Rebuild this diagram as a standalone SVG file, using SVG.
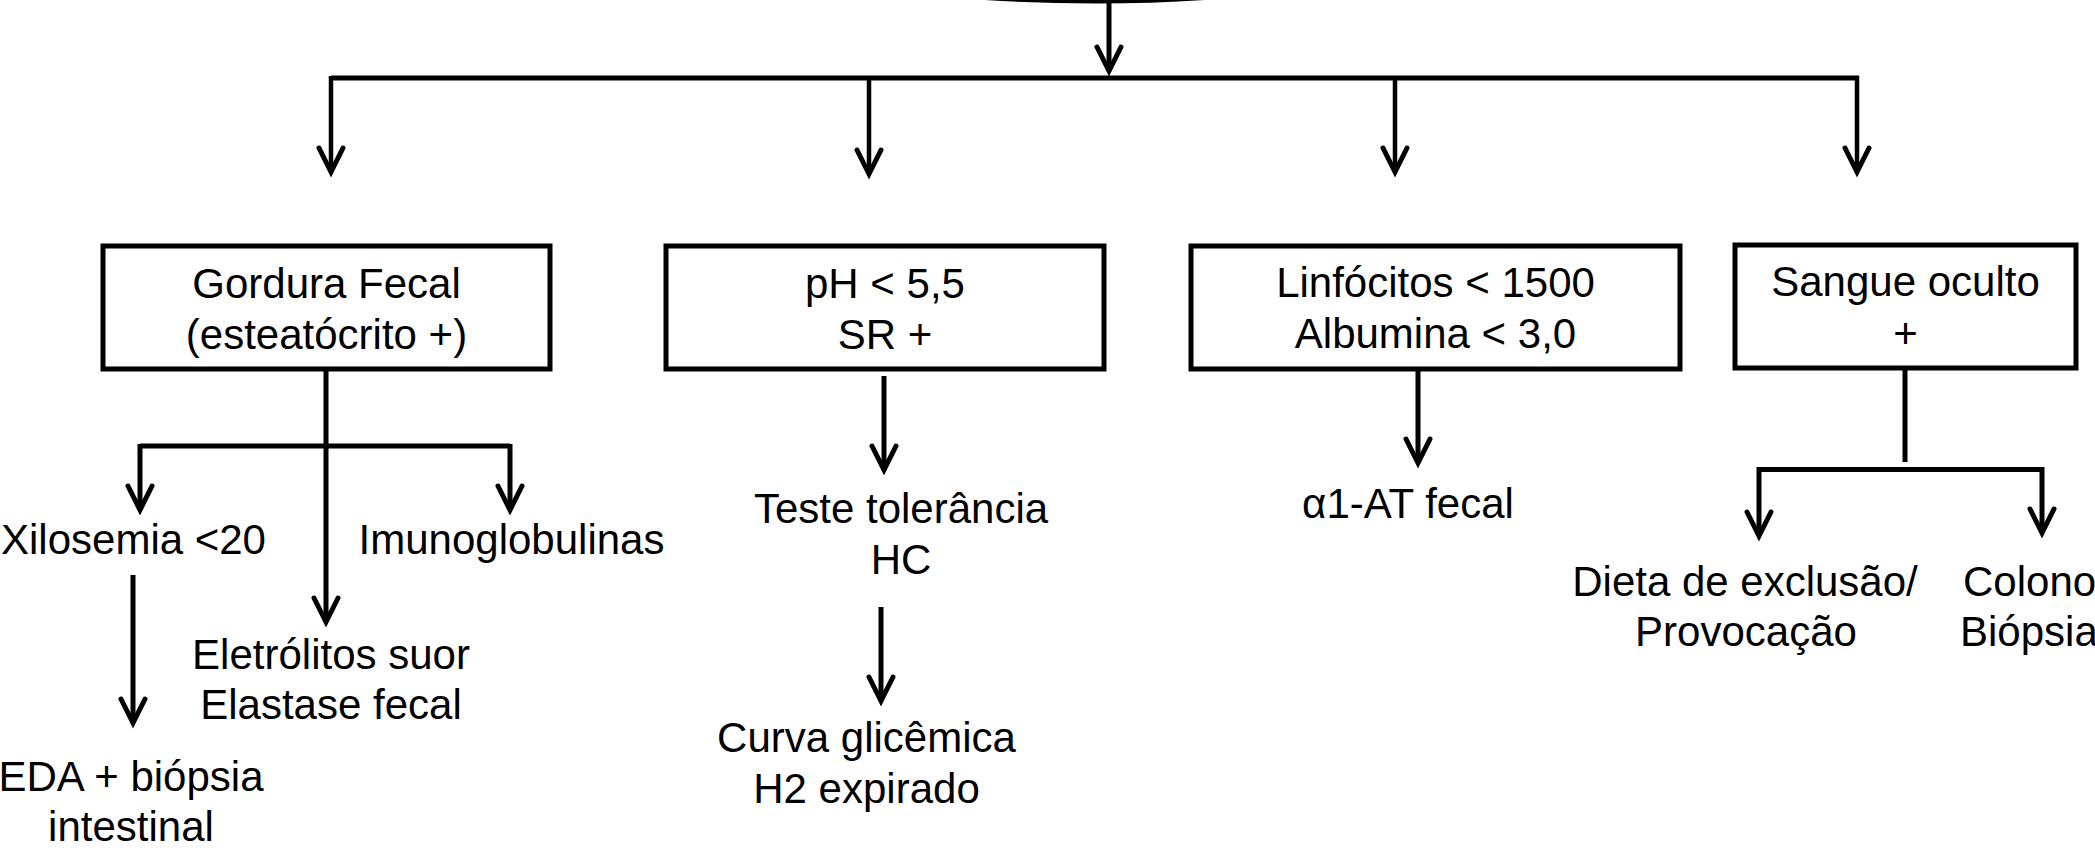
<svg xmlns="http://www.w3.org/2000/svg" width="2095" height="851" viewBox="0 0 2095 851">
  <defs>
    <style>
      .box { fill: #ffffff; stroke: #000000; stroke-width: 5; }
      .lbl { font-family: "Liberation Sans", Arial, sans-serif; font-size: 42px; fill: #000000; text-anchor: middle; }
      .lbl-start { text-anchor: start; }
      .wire { fill: none; stroke: #000000; stroke-width: 5; stroke-linejoin: miter; }
      .drop { fill: none; stroke: #000000; stroke-width: 4.5; }
      .arrow { marker-end: url(#head); }
    </style>
    <!-- open chevron arrowhead, sized in user units -->
    <marker id="head" viewBox="-30 -16 40 32" markerWidth="40" markerHeight="32" refX="0" refY="0" orient="auto" markerUnits="userSpaceOnUse" overflow="visible">
      <path d="M -24 -12 L 0 0 L -24 12" fill="none" stroke="#000000" stroke-width="5" stroke-linecap="round" stroke-linejoin="miter"/>
    </marker>
  </defs>

  <rect x="0" y="0" width="2095" height="851" fill="#ffffff"/>

  <!-- bottom edge of the parent node above the frame -->
  <path id="parent-edge" d="M 985 0 Q 1097 7 1205 0 Z" fill="#000000"/>

  <g id="connectors">
    <!-- trunk into the distribution bus -->
    <line class="wire arrow" x1="1109" y1="3" x2="1109" y2="71"/>
    <line class="wire" x1="331" y1="78" x2="1859" y2="78"/>
    <line class="drop arrow" x1="331" y1="76" x2="331" y2="172"/>
    <line class="drop arrow" x1="869" y1="78" x2="869" y2="174"/>
    <line class="drop arrow" x1="1395" y1="78" x2="1395" y2="172"/>
    <line class="drop arrow" x1="1857" y1="76" x2="1857" y2="172"/>

    <!-- Gordura Fecal branches -->
    <line class="wire arrow" x1="326" y1="369" x2="326" y2="622"/>
    <path class="wire" d="M 140 446 H 510"/>
    <line class="wire arrow" x1="140" y1="444" x2="140" y2="510"/>
    <line class="wire arrow" x1="510" y1="444" x2="510" y2="510"/>
    <line class="wire arrow" x1="133" y1="575" x2="133" y2="723"/>

    <!-- pH branch -->
    <line class="wire arrow" x1="884" y1="376" x2="884" y2="470"/>
    <line class="wire arrow" x1="881" y1="607" x2="881" y2="701"/>

    <!-- Linfocitos branch -->
    <line class="wire arrow" x1="1418" y1="369" x2="1418" y2="463"/>

    <!-- Sangue oculto branches -->
    <line class="wire" x1="1905" y1="369" x2="1905" y2="462"/>
    <path class="wire" d="M 1759 469.5 H 2042"/>
    <line class="wire arrow" x1="1759" y1="467" x2="1759" y2="536"/>
    <line class="wire arrow" x1="2042" y1="467" x2="2042" y2="533"/>
  </g>

  <g id="node-gordura">
    <rect class="box" x="103" y="246" width="447" height="123"/>
    <text class="lbl" x="326.5" y="298">Gordura Fecal</text>
    <text class="lbl" x="326.5" y="349">(esteatócrito +)</text>
  </g>

  <g id="node-ph">
    <rect class="box" x="666" y="246" width="438" height="123"/>
    <text class="lbl" x="885" y="298">pH &lt; 5,5</text>
    <text class="lbl" x="885" y="349">SR +</text>
  </g>

  <g id="node-linfocitos">
    <rect class="box" x="1191" y="246" width="489" height="123"/>
    <text class="lbl" x="1435.5" y="297">Linfócitos &lt; 1500</text>
    <text class="lbl" x="1435.5" y="348">Albumina &lt; 3,0</text>
  </g>

  <g id="node-sangue">
    <rect class="box" x="1735" y="245" width="341" height="123"/>
    <text class="lbl" x="1905.5" y="296">Sangue oculto</text>
    <text class="lbl" x="1905.5" y="348">+</text>
  </g>

  <g id="node-xilosemia">
    <text class="lbl" x="133.5" y="554">Xilosemia &lt;20</text>
  </g>

  <g id="node-imunoglobulinas">
    <text class="lbl" x="511.5" y="554">Imunoglobulinas</text>
  </g>

  <g id="node-eletrolitos">
    <text class="lbl" x="331" y="669">Eletrólitos suor</text>
    <text class="lbl" x="331" y="719">Elastase fecal</text>
  </g>

  <g id="node-eda">
    <text class="lbl" x="131" y="791">EDA + biópsia</text>
    <text class="lbl" x="131" y="841">intestinal</text>
  </g>

  <g id="node-teste">
    <text class="lbl" x="901" y="523">Teste tolerância</text>
    <text class="lbl" x="901" y="574">HC</text>
  </g>

  <g id="node-curva">
    <text class="lbl" x="866.5" y="752">Curva glicêmica</text>
    <text class="lbl" x="866.5" y="803">H2 expirado</text>
  </g>

  <g id="node-alfa1">
    <text class="lbl" x="1408" y="518">α1-AT fecal</text>
  </g>

  <g id="node-dieta">
    <text class="lbl" x="1745" y="596">Dieta de exclusão/</text>
    <text class="lbl" x="1746" y="646">Provocação</text>
  </g>

  <g id="node-colono">
    <text class="lbl lbl-start" x="1963" y="596">Colono</text>
    <text class="lbl lbl-start" x="1960" y="646">Biópsia</text>
  </g>
</svg>
